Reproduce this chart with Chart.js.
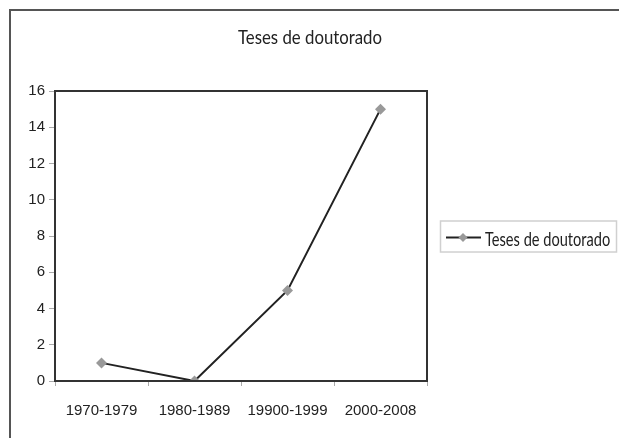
<!DOCTYPE html>
<html>
<head>
<meta charset="utf-8">
<script src="https://cdn.jsdelivr.net/npm/chart.js@4"></script>
<style>
  html, body { margin: 0; padding: 0; background: #fff; }
  #wrap { position: relative; width: 619px; height: 438px; overflow: hidden; }
  #frame { position: absolute; left: 9px; top: 9px; width: 700px; height: 500px; border: 2px solid #555; }
  canvas { position: absolute; left: 0; top: 0; }
</style>
</head>
<body>
<div id="wrap">
  <div id="frame"></div>
  <canvas id="chart" width="619" height="438"></canvas>
</div>
<script>
// categorias e valores
const periodos = ['1970-1979', '1980-1989', '19900-1999', '2000-2008'];
const teses = [1, 0, 5, 15];
const yTicks = [0, 2, 4, 6, 8, 10, 12, 14, 16];
const titulo = 'Teses de doutorado';

const fonteTitulo = '20px Lato';

// texto comprimido na horizontal (fonte condensada do original)
function textoEstreito(ctx, txt, x, y, escala) {
  ctx.save();
  ctx.translate(x, y);
  ctx.scale(escala, 1);
  ctx.fillText(txt, 0, 0);
  ctx.restore();
}

// título, caixa do gráfico e legenda desenhados à mão
const boxPlugin = {
  id: 'boxPlugin',
  afterDraw(chart) {
    const ctx = chart.ctx;
    const a = chart.chartArea;
    ctx.save();
    ctx.strokeStyle = '#333';
    ctx.lineWidth = 2;
    ctx.strokeRect(a.left, a.top, a.right - a.left, a.bottom - a.top);

    // título centrado na largura toda
    ctx.fillStyle = '#222';
    ctx.font = fonteTitulo;
    ctx.textBaseline = 'alphabetic';
    ctx.textAlign = 'center';
    textoEstreito(ctx, titulo, 310, 44, 0.84);

    // legenda
    ctx.strokeStyle = '#d0d0d0';
    ctx.lineWidth = 1.5;
    ctx.strokeRect(440.5, 221, 176, 31);
    const ly = 237.5;
    ctx.strokeStyle = '#222';
    ctx.lineWidth = 2;
    ctx.beginPath();
    ctx.moveTo(446, ly);
    ctx.lineTo(481, ly);
    ctx.stroke();
    ctx.fillStyle = '#999';
    ctx.beginPath();
    ctx.moveTo(463, ly - 4.5);
    ctx.lineTo(467.5, ly);
    ctx.lineTo(463, ly + 4.5);
    ctx.lineTo(458.5, ly);
    ctx.closePath();
    ctx.fill();
    ctx.fillStyle = '#222';
    ctx.textAlign = 'left';
    textoEstreito(ctx, chart.data.datasets[0].label, 485, 246, 0.73);
    ctx.restore();
  }
};

new Chart(document.getElementById('chart'), {
  type: 'line',
  data: {
    labels: periodos,
    datasets: [{
      label: titulo,
      data: teses,
      borderColor: '#222',
      borderWidth: 2,
      pointStyle: 'rectRot',
      pointRadius: 5.5,
      pointBackgroundColor: '#999',
      pointBorderColor: '#999',
      pointBorderWidth: 0,
      tension: 0
    }]
  },
  options: {
    responsive: false,
    animation: false,
    layout: { padding: { left: 10, right: 192, top: 91, bottom: 0 } },
    plugins: {
      legend: { display: false },
      tooltip: { enabled: false },
      title: { display: false }
    },
    scales: {
      x: {
        offset: true,
        grid: {
          offset: true,
          drawOnChartArea: false,
          tickLength: 5,
          color: '#aaa'
        },
        border: { display: false },
        ticks: {
          color: '#222',
          font: { family: 'Liberation Sans', size: 15 },
          padding: 16,
          maxRotation: 0
        },
        afterFit(s) { s.height = 57; }
      },
      y: {
        min: 0,
        max: 16,
        afterBuildTicks(s) { s.ticks = yTicks.map(v => ({ value: v })); },
        grid: {
          drawOnChartArea: false,
          tickLength: 6,
          color: '#aaa'
        },
        border: { display: false },
        ticks: {
          color: '#222',
          font: { family: 'Liberation Sans', size: 15 },
          padding: 4
        },
        afterFit(s) { s.width = 45; }
      }
    }
  },
  plugins: [boxPlugin]
});
</script>
</body>
</html>
